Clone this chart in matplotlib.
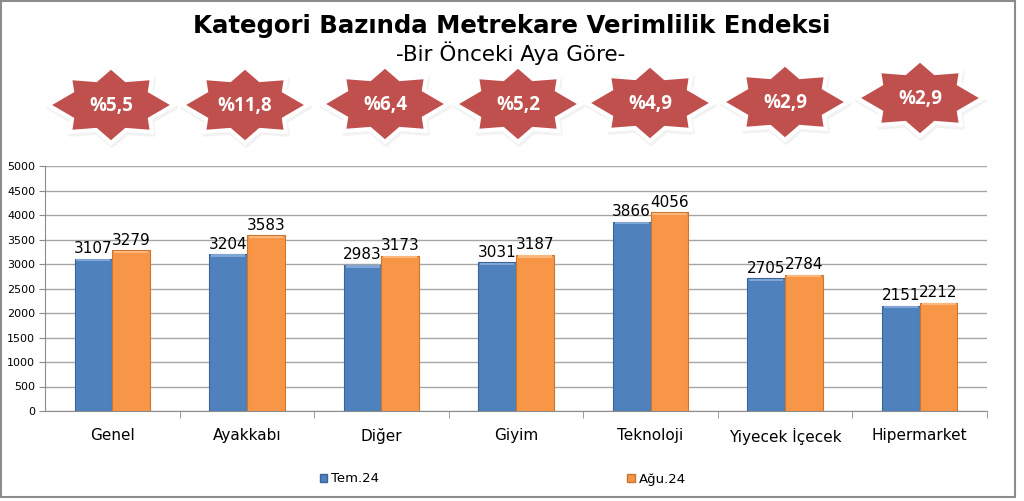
import numpy as np
import matplotlib.pyplot as plt
from matplotlib.patches import Polygon, Rectangle

plt.rcParams['font.family'] = ['DejaVu Sans']

kategoriler = ['Genel', 'Ayakkabı', 'Diğer', 'Giyim', 'Teknoloji', 'Yiyecek İçecek', 'Hipermarket']
tem24 = [3107, 3204, 2983, 3031, 3866, 2705, 2151]
agu24 = [3279, 3583, 3173, 3187, 4056, 2784, 2212]
degisim = ['%5,5', '%11,8', '%6,4', '%5,2', '%4,9', '%2,9', '%2,9']
seri_adlari = ['Tem.24', 'Ağu.24']

mavi = '#4F81BD'
turuncu = '#F79646'

W, H = 1024, 501
fig = plt.figure(figsize=(W / 100, H / 100), dpi=100)

# overlay in pixel units for frame and stars
bg = fig.add_axes([0, 0, 1, 1])
bg.set_xlim(0, W)
bg.set_ylim(H, 0)
bg.axis('off')
bg.add_patch(Rectangle((0.5, 0.5), 1014.5, 496.5, fill=False, ec='#8c8c8c', lw=1.5))

ax = fig.add_axes([45 / W, 1 - 411 / H, (987 - 45) / W, (411 - 166) / H])
x = np.arange(len(kategoriler))
bw = 0.28
b1 = ax.bar(x - bw / 2, tem24, bw, color=mavi, edgecolor='#3a6496', lw=0.8, zorder=3)
b2 = ax.bar(x + bw / 2, agu24, bw, color=turuncu, edgecolor='#c9772f', lw=0.8, zorder=3)
# light top strip, bevel look
for bars, c in ((b1, '#7fa6d6'), (b2, '#fbb77c')):
    for r in bars:
        ax.bar(r.get_x() + r.get_width() / 2, 45, r.get_width() * 0.9,
               bottom=r.get_height() - 55, color=c, lw=0, zorder=4)

for i in range(len(x)):
    ax.text(x[i] - bw / 2, tem24[i] + 50, str(tem24[i]), ha='center', va='bottom', fontsize=11, zorder=5)
    ax.text(x[i] + bw / 2, agu24[i] + 50, str(agu24[i]), ha='center', va='bottom', fontsize=11, zorder=5)

ax.set_xlim(-0.5, len(x) - 0.5)
ax.set_ylim(0, 5000)
ax.set_yticks(np.arange(0, 5001, 500))
ax.yaxis.grid(True, color='#a6a6a6', lw=1, zorder=0)
ax.set_xticks(x)
ax.set_xticklabels(kategoriler, fontsize=11)
ax.set_xticks(np.arange(0.5, len(x) - 0.5 + 0.01, 1), minor=True)
ax.tick_params(axis='x', which='major', length=0, pad=12)
ax.tick_params(axis='x', which='minor', length=5, color='#8c8c8c', direction='out')
ax.tick_params(axis='y', labelsize=8, length=4, color='#8c8c8c', pad=3)
for s in ('top', 'right'):
    ax.spines[s].set_visible(False)
ax.spines['left'].set_color('#8c8c8c')
ax.spines['bottom'].set_color('#8c8c8c')

# title
fig.text(512 / W, 1 - 26 / H, 'Kategori Bazında Metrekare Verimlilik Endeksi', ha='center', va='center',
         fontsize=17.6, fontweight='bold')
fig.text(511 / W, 1 - 53 / H, '-Bir Önceki Aya Göre-', ha='center', va='center', fontsize=15.5)

# stars
yildiz_x = [111, 245, 385, 518, 650, 785, 920]
yildiz_y = [105, 105, 104, 104, 103, 102, 98]
sx = np.array([-41, -15, 0, 15, 41, 39, 63, 39, 41, 15, 0, -15, -41, -39, -63, -39])
sy = np.array([-27, -25, -38, -25, -27, -14, 0, 14, 27, 25, 38, 25, 27, 14, 0, -14])
for cx, cy, t in zip(yildiz_x, yildiz_y, degisim):
    bg.add_patch(Polygon(np.c_[cx + sx + 1, cy + sy + 2], closed=True, fc='#d9d9d9',
                         ec='#e6e6e6', lw=4, alpha=0.5, joinstyle='round'))
    bg.add_patch(Polygon(np.c_[cx + sx, cy + sy], closed=True, fc='#C0504D', ec='white', lw=3))
    bg.text(cx, cy + 1, t, ha='center', va='center', color='white', fontsize=13.5,
            fontweight='bold', family='Open Sans')

# legend
h = [Rectangle((0, 0), 1, 1, fc=mavi, ec='#3a6496'), Rectangle((0, 0), 1, 1, fc=turuncu, ec='#c9772f')]
fig.legend(h, seri_adlari, loc='center', bbox_to_anchor=(503 / W, 1 - 479 / H), ncol=2, frameon=False,
           fontsize=9.5, handlelength=0.6, handleheight=0.6, handletextpad=0.3, columnspacing=18.8)

fig.savefig('out.png', dpi=100)
